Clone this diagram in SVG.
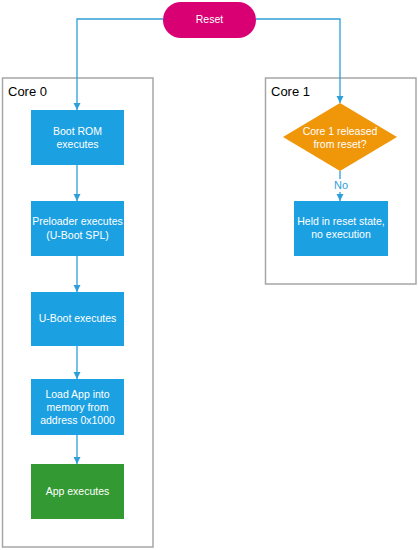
<svg xmlns="http://www.w3.org/2000/svg" width="418" height="550" viewBox="0 0 418 550">
<defs>
<marker id="arr" markerWidth="8" markerHeight="8" refX="7" refY="4" orient="auto" markerUnits="userSpaceOnUse">
<path d="M0,0.5 L7,4 L0,7.5 Z" fill="#2f9fd8"/>
</marker>
<style>
.core{fill:#fff;stroke:#a6a6a6;stroke-width:1.5}
.blue{fill:#1ba1e2}
.green{fill:#339933}
.t{font-family:"Liberation Sans",Arial,sans-serif;font-size:10.5px;fill:#fff;text-anchor:middle}
.lbl{font-family:"Liberation Sans",Arial,sans-serif;font-size:13px;fill:#000}
.c{fill:none;stroke:#2f9fd8;stroke-width:1.3;marker-end:url(#arr)}
</style>
</defs>
<rect width="418" height="550" fill="#fff"/>
<g id="core0"><rect class="core" x="2.5" y="78" width="150.5" height="469"/><text class="lbl" x="8" y="96">Core 0</text></g>
<g id="core1"><rect class="core" x="265.5" y="78" width="150.5" height="206"/><text class="lbl" x="271" y="96">Core 1</text></g>
<g id="connectors">
<path class="c" d="M163,19 H77 V110"/>
<path class="c" d="M256,19 H340 V103"/>
<path class="c" d="M77,165 V201"/>
<path class="c" d="M77,256 V292"/>
<path class="c" d="M77,346 V379"/>
<path class="c" d="M77,435 V464"/>
<path class="c" d="M340,171 V201"/>
<rect x="332" y="179" width="16" height="13" fill="#fff"/>
<text x="341" y="189" font-family="'Liberation Sans',Arial,sans-serif" font-size="11" fill="#2f9fd8" text-anchor="middle">No</text>
</g>
<g id="reset"><rect x="163" y="2" width="93" height="36" rx="18" fill="#d80073"/><text class="t" x="209.5" y="23">Reset</text></g>
<g id="bootrom"><rect class="blue" x="31" y="110" width="93" height="55"/><text class="t" x="77.5" y="135">Boot ROM</text><text class="t" x="77.5" y="148">executes</text></g>
<g id="preloader"><rect class="blue" x="31" y="201" width="93" height="55"/><text class="t" x="77.5" y="225">Preloader executes</text><text class="t" x="77.5" y="239">(U-Boot SPL)</text></g>
<g id="uboot"><rect class="blue" x="31" y="292" width="93" height="54"/><text class="t" x="77.5" y="322">U-Boot executes</text></g>
<g id="loadapp"><rect class="blue" x="31" y="379" width="93" height="56"/><text class="t" x="77.5" y="398">Load App into</text><text class="t" x="77.5" y="411">memory from</text><text class="t" x="77.5" y="424">address 0x1000</text></g>
<g id="app"><rect class="green" x="31" y="464" width="93" height="55"/><text class="t" x="77.5" y="495">App executes</text></g>
<g id="decision"><path d="M340,103 L397,137 L340,171 L283,137 Z" fill="#f09609"/><text class="t" x="340" y="135">Core 1 released</text><text class="t" x="340" y="148">from reset?</text></g>
<g id="held"><rect class="blue" x="294" y="201" width="94" height="55"/><text class="t" x="341" y="225">Held in reset state,</text><text class="t" x="341" y="238">no execution</text></g>
</svg>
